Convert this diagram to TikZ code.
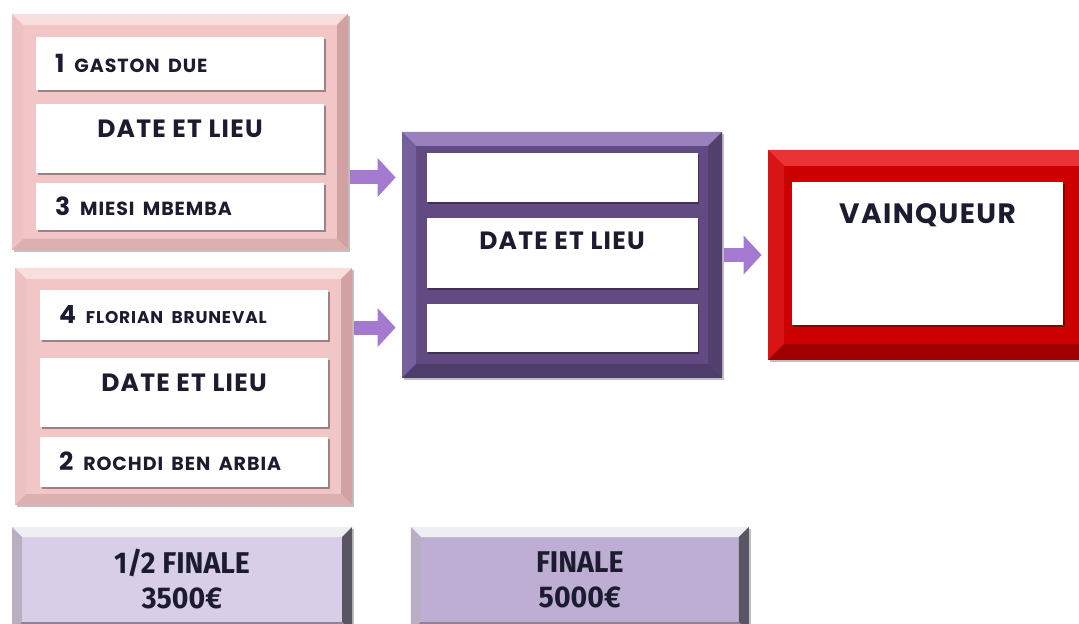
\documentclass[tikz,border=0pt]{standalone}
\usepackage{fontspec}
\setmainfont{Poppins}[LetterSpace=5]
\newfontfamily\btnfont{Fira Sans}[FakeStretch=0.95]
\usepackage{xcolor}
\usepackage{tikz}
\usetikzlibrary{positioning, arrows.meta, shadows}

\definecolor{ink}{HTML}{1C1C30}
\definecolor{pinkfill}{HTML}{F2C6C6}
\definecolor{pinktop}{HTML}{F9DEDE}
\definecolor{pinkleft}{HTML}{EEC2C2}
\definecolor{pinkright}{HTML}{D2A2A2}
\definecolor{pinkbottom}{HTML}{DCB0B0}
\definecolor{purplefill}{HTML}{624B82}
\definecolor{purpletop}{HTML}{9A80BC}
\definecolor{purpleleft}{HTML}{74609A}
\definecolor{purpleright}{HTML}{52406E}
\definecolor{purplebottom}{HTML}{4E3C6A}
\definecolor{redfill}{HTML}{CC0000}
\definecolor{redtop}{HTML}{E83434}
\definecolor{redleft}{HTML}{D81414}
\definecolor{redright}{HTML}{A80000}
\definecolor{redbottom}{HTML}{A00000}
\definecolor{semifill}{HTML}{D9CEE8}
\definecolor{finalfill}{HTML}{BFAED3}
\definecolor{btntop}{HTML}{EFEEF3}
\definecolor{btnleft}{HTML}{B8B0C2}
\definecolor{btnright}{HTML}{5A5562}
\definecolor{btnbottom}{HTML}{8A8592}
\definecolor{arrowcol}{HTML}{A47AD0}

% seed number + player name
\newcommand{\seedname}[3][9.5]{{\fontsize{12.5}{14}\selectfont #2}\hspace{5pt}{\fontsize{#1}{10}\selectfont #3}}

\begin{document}
\begin{tikzpicture}[
    x=0.5pt, y=-0.5pt,
    sz/.style 2 args={minimum width=#1*0.5pt, minimum height=#2*0.5pt},
    bevel/.style n args={5}{path picture={
        \fill[#2] (path picture bounding box.north west) -- (path picture bounding box.north east)
            -- ([shift={(-#1,-#1)}]path picture bounding box.north east) -- ([shift={(#1,-#1)}]path picture bounding box.north west) -- cycle;
        \fill[#3] (path picture bounding box.north west) -- ([shift={(#1,-#1)}]path picture bounding box.north west)
            -- ([shift={(#1,#1)}]path picture bounding box.south west) -- (path picture bounding box.south west) -- cycle;
        \fill[#4] (path picture bounding box.north east) -- ([shift={(-#1,-#1)}]path picture bounding box.north east)
            -- ([shift={(-#1,#1)}]path picture bounding box.south east) -- (path picture bounding box.south east) -- cycle;
        \fill[#5] (path picture bounding box.south west) -- ([shift={(#1,#1)}]path picture bounding box.south west)
            -- ([shift={(-#1,#1)}]path picture bounding box.south east) -- (path picture bounding box.south east) -- cycle;
    }},
    frame/.style={rectangle, inner sep=0pt,
        drop shadow={shadow xshift=1pt, shadow yshift=-1.2pt, opacity=0.25, fill=black}},
    pinkframe/.style={frame, fill=pinkfill, bevel={5.5pt}{pinktop}{pinkleft}{pinkright}{pinkbottom}},
    purpleframe/.style={frame, fill=purplefill, bevel={7pt}{purpletop}{purpleleft}{purpleright}{purplebottom}},
    redframe/.style={frame, fill=redfill, bevel={8pt}{redtop}{redleft}{redright}{redbottom}},
    prizebox/.style={frame, fill=#1, bevel={5pt}{btntop}{btnleft}{btnright}{btnbottom},
        text=ink, align=center, font=\btnfont\bfseries\fontsize{15}{17.5}\selectfont},
    slot/.style={rectangle, fill=white, inner sep=0pt, text=ink,
        font=\bfseries\fontsize{12.5}{14}\selectfont,
        drop shadow={shadow xshift=0.8pt, shadow yshift=-1pt, opacity=0.35, fill=black}},
    namecell/.style={slot, align=left, text width=125pt, inner xsep=9.5pt},
    flow/.style={draw=arrowcol, line width=7pt, shorten <=1pt, shorten >=3pt,
        -{Triangle[length=9pt, width=19pt, fill=arrowcol]}},
]
\useasboundingbox (0,0) rectangle (1079,624);
\clip (0,0) rectangle (1079,624);

% demi-finales
\node[pinkframe, sz={336}{236}] (pink1) at (180,132) {};
\node[namecell, sz={288}{53}] (s1a) at (180,63.5) {\seedname{1}{GASTON DUE}};
\node[slot, sz={288}{69}, text depth=10pt] (s1b) [below=6.5pt of s1a] {DATE ET LIEU};
\node[namecell, sz={288}{47}] (s1c) [below=4.5pt of s1b] {\seedname{3}{MIESI MBEMBA}};

\node[pinkframe, sz={337}{237}] (pink2) at (183.5,386.5) {};
\node[namecell, sz={288}{50}] (s2a) at (184,315) {\seedname[8.5]{4}{FLORIAN BRUNEVAL}};
\node[slot, sz={288}{69}, text depth=10pt] (s2b) [below=8.5pt of s2a] {DATE ET LIEU};
\node[namecell, sz={288}{50}] (s2c) [below=4.5pt of s2b] {\seedname{2}{ROCHDI BEN ARBIA}};

% finale
\node[purpleframe, sz={320}{246}] (purple) at (562,255) {};
\node[slot, sz={271}{49}] (p1) at (562,177.5) {};
\node[slot, sz={271}{70}, text depth=12pt] (p2) [below=7.5pt of p1] {DATE ET LIEU};
\node[slot, sz={271}{48}] (p3) [below=7.5pt of p2] {};

% vainqueur
\node[redframe, sz={350}{210}] (red) at (943,255) {};
\node[slot, sz={271}{143}, text depth=40pt, font=\bfseries\fontsize{14}{16}\selectfont] (r1) at (927.5,253.5) {VAINQUEUR};

% fleches
\draw[flow] (pink1.east |- p1) -- (purple.west |- p1);
\draw[flow] (pink2.east |- p3) -- (purple.west |- p3);
\draw[flow] (purple.east |- red) -- (red.west);

% primes
\node[prizebox=semifill, sz={340}{105}] (prize1) at (182,579.5) {1/2 FINALE\\3500€};
\node[prizebox=finalfill, sz={338}{105}] (prize2) [right=29pt of prize1] {FINALE\\5000€};
\end{tikzpicture}
\end{document}
